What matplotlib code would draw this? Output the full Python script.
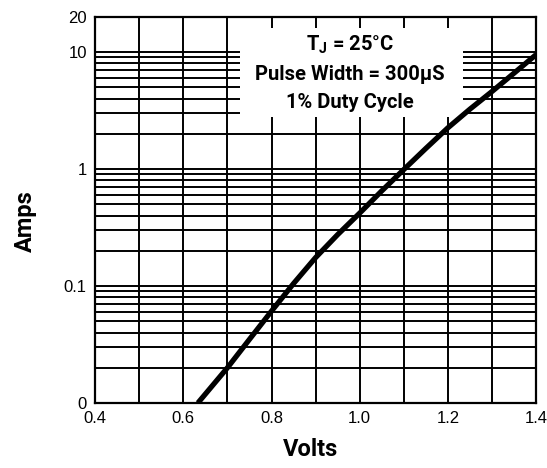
import matplotlib
matplotlib.use("Agg")
import matplotlib.pyplot as plt
from matplotlib.ticker import FixedLocator, NullFormatter
from matplotlib.patches import Rectangle

# forward characteristic
volts = [0.633, 0.70, 0.75, 0.80, 0.85, 0.90, 0.95, 1.00, 1.05, 1.10,
         1.15, 1.20, 1.25, 1.30, 1.35, 1.40]
amps = [0.01, 0.020, 0.035, 0.061, 0.105, 0.175, 0.275, 0.42, 0.65, 0.99,
        1.5, 2.25, 3.25, 4.6, 6.6, 9.5]

x_major = [0.4, 0.6, 0.8, 1.0, 1.2, 1.4]
x_labels = ["0.4", "0.6", "0.8", "1.0", "1.2", "1.4"]
x_minor = [0.5, 0.7, 0.9, 1.1, 1.3]
y_major = [0.01, 0.1, 1, 10, 20]
y_labels = ["0", "0.1", "1", "10", "20"]
y_minor = [m * d for d in (0.01, 0.1, 1) for m in range(2, 10)]

notes = ["T$_\\mathregular{J}$ = 25°C", "Pulse Width = 300µS", "1% Duty Cycle"]
note_y = [0.927, 0.850, 0.777]

plt.rcParams["mathtext.default"] = "regular"
narrow = ["Roboto", "DejaVu Sans"]

fig = plt.figure(figsize=(5.47, 4.68), dpi=100)
ax = fig.add_axes([0.174, 0.139, 0.806, 0.825])

ax.set_yscale("log")
ax.set_xlim(0.4, 1.4)
ax.set_ylim(0.01, 20)

ax.xaxis.set_major_locator(FixedLocator(x_major))
ax.xaxis.set_minor_locator(FixedLocator(x_minor))
ax.set_xticklabels(x_labels)
ax.yaxis.set_major_locator(FixedLocator(y_major))
ax.yaxis.set_minor_locator(FixedLocator(y_minor))
ax.yaxis.set_minor_formatter(NullFormatter())
ax.set_yticklabels(y_labels)

ax.grid(which="both", color="black", linewidth=1.4, zorder=1)
ax.set_axisbelow(True)
ax.tick_params(which="both", length=0, pad=6, labelsize=12,
               labelfontfamily="Liberation Sans")
for sp in ax.spines.values():
    sp.set_linewidth(1.6)

# white panel behind the annotation
ax.add_patch(Rectangle((0.729, 2.8), 1.234 - 0.729, 16.0 - 2.8,
                       facecolor="white", edgecolor="none", zorder=2))

ax.plot(volts, amps, color="black", linewidth=3.8, solid_capstyle="butt",
        solid_joinstyle="round", zorder=3)

for s, yy in zip(notes, note_y):
    ax.text(0.578, yy, s, transform=ax.transAxes, ha="center", va="center",
            fontsize=14.5, fontweight="bold", family=narrow, zorder=4)

ax.set_xlabel("Volts", fontsize=17, fontweight="bold", family=narrow)
ax.set_ylabel("Amps", fontsize=17, fontweight="bold", family=narrow)
ax.xaxis.set_label_coords(0.488, -0.092)
ax.yaxis.set_label_coords(-0.133, 0.47)

fig.savefig("out.png", dpi=100)
